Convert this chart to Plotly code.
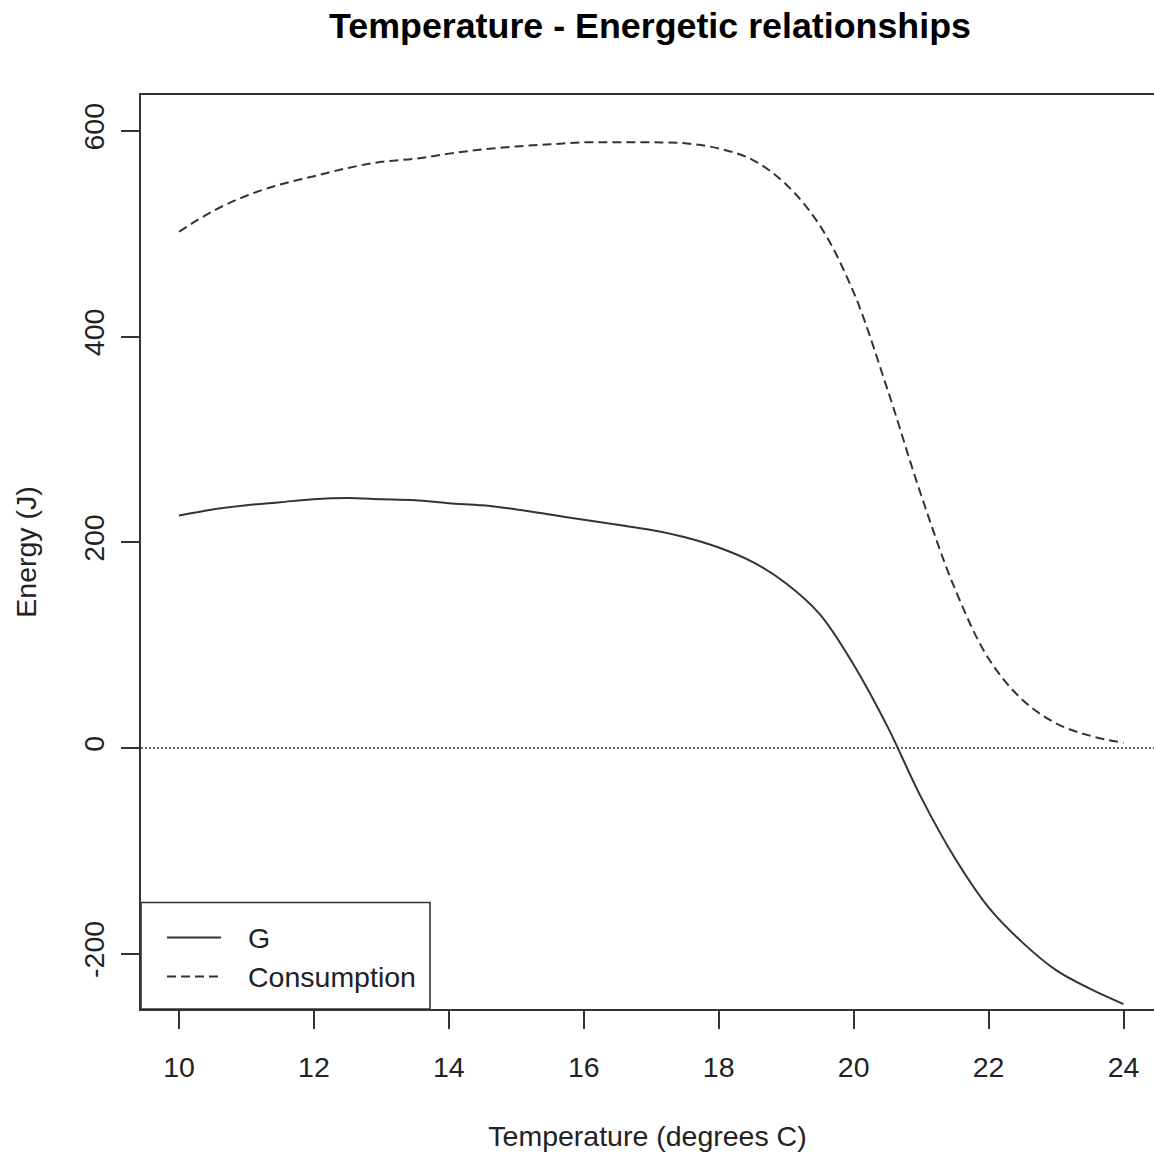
import plotly.graph_objects as go

# Temperature grid (degrees C)
temperature = [10, 10.5, 11, 11.5, 12, 12.5, 13, 13.5, 14, 14.5, 15, 15.5, 16, 16.5,
               17, 17.5, 18, 18.5, 19, 19.5, 20, 20.5, 21, 21.5, 22, 22.5, 23, 23.5, 24]

# Energy balance G (J)
g_energy = [226, 232, 236, 239, 242, 243, 242, 241, 238, 236, 232, 227, 222, 217,
            212, 205, 195, 181, 160, 130, 81, 21, -48, -107, -155, -189, -216, -234, -249]

# Consumption (J)
consumption = [502, 522, 537, 548, 556, 564, 570, 573, 578, 582, 585, 587, 589, 589,
               589, 588, 583, 572, 548, 508, 443, 349, 246, 155, 87, 47, 24, 12, 5]

x_ticks = [10, 12, 14, 16, 18, 20, 22, 24]
y_ticks = [-200, 0, 200, 400, 600]

series_names = ["G", "Consumption"]

FONT = "Liberation Sans, Arial, sans-serif"
INK = "#222222"
LINE = "#333333"
SOLID = dict(color=LINE, width=2)
DASHED = dict(color=LINE, width=2, dash="9px,5px")

# Plot-area geometry in pixels (figure is 1154 x 1154)
L, R, T, B = 141, 1154, 95, 1009.5
W, H = R - L, B - T


def px_x(px):
    return (px - L) / W


def px_y(py):
    return (B - py) / H


fig = go.Figure()
fig.add_trace(go.Scatter(
    x=temperature, y=g_energy, name=series_names[0], mode="lines",
    line=dict(**SOLID, shape="spline"), showlegend=False,
))
fig.add_trace(go.Scatter(
    x=temperature, y=consumption, name=series_names[1], mode="lines",
    line=dict(**DASHED, shape="spline"), showlegend=False,
))

# Zero reference line
fig.add_shape(type="line", xref="paper", yref="y", x0=0, x1=1, y0=0, y1=0,
              line=dict(color=LINE, width=1.6, dash="2px,2px"), layer="above")

# Boxed key in the lower-left corner
fig.add_shape(type="rect", xref="paper", yref="paper",
              x0=0, x1=px_x(430), y0=0, y1=px_y(903),
              line=dict(color=LINE, width=1.6), fillcolor="white", layer="above")
for name, style, row_y in zip(series_names, [SOLID, DASHED], [938, 977]):
    fig.add_shape(type="line", xref="paper", yref="paper",
                  x0=px_x(167), x1=px_x(221), y0=px_y(row_y), y1=px_y(row_y),
                  line=style, layer="above")
    fig.add_annotation(text=name, xref="paper", yref="paper",
                       x=px_x(246), y=px_y(row_y), xanchor="left", yanchor="middle",
                       showarrow=False, font=dict(family=FONT, size=28.5, color=INK))

fig.update_layout(
    width=1154, height=1154,
    margin=dict(l=L, r=1154 - R, t=T, b=1154 - B, autoexpand=False),
    paper_bgcolor="white", plot_bgcolor="white",
    font=dict(family=FONT, size=28.5, color=INK),
    title=dict(text="<b>Temperature - Energetic relationships</b>",
               font=dict(family=FONT, size=35.8, color="#000000"),
               x=650 / 1154, xanchor="center", xref="container",
               y=1 - 25 / 1154, yanchor="middle", yref="container"),
    showlegend=False,
)

fig.update_xaxes(
    range=[9.437, 24.452], tickvals=x_ticks, ticktext=[str(v) for v in x_ticks],
    ticks="outside", ticklen=18, tickwidth=1.6, tickcolor=LINE,
    showline=True, linecolor=LINE, linewidth=1.6, mirror=True,
    showgrid=False, zeroline=False, ticklabelstandoff=14,
    title=dict(text="Temperature (degrees C)", standoff=44,
               font=dict(family=FONT, size=28.5, color=INK)),
)
fig.update_yaxes(
    range=[-253.8, 635.0], tickvals=y_ticks, ticktext=[str(v) for v in y_ticks],
    tickangle=-90, ticks="outside", ticklen=18, tickwidth=1.6, tickcolor=LINE,
    showline=True, linecolor=LINE, linewidth=1.6, mirror=False,
    showgrid=False, zeroline=False, ticklabelstandoff=6,
    title=dict(text="Energy (J)", standoff=33,
               font=dict(family=FONT, size=28.5, color=INK)),
)

fig.write_html("out.html")
